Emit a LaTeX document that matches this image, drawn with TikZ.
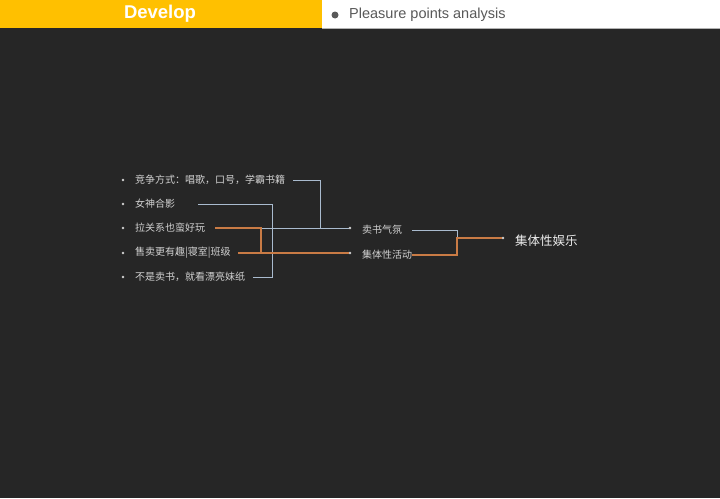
\documentclass[tikz,border=0pt]{standalone}
\usepackage{fontspec}
\setmainfont{Liberation Sans}
\newfontfamily\cjk{Noto Sans CJK SC}
\usetikzlibrary{positioning,calc}
\definecolor{bgdark}{HTML}{262626}
\definecolor{baryellow}{HTML}{FFC000}
\definecolor{headgray}{HTML}{595959}
\definecolor{itemgray}{HTML}{D2D2D2}
\definecolor{linkblue}{HTML}{A9BBCE}
\definecolor{linkorange}{HTML}{C97B45}

\begin{document}
\begin{tikzpicture}[x=1pt,y=-1pt,
  item/.style={anchor=west, inner sep=0pt, text width=#1, align=left,
    font=\cjk\fontsize{10}{12}\selectfont, text=itemgray},
  dot/.style={circle, fill=itemgray, inner sep=0pt, minimum size=2.6pt},
  blueln/.style={draw=linkblue, line width=1pt},
  orangeln/.style={draw=linkorange, line width=1.3pt}]
% Background and header
\useasboundingbox (0,0) rectangle (720,498);
\fill[bgdark] (0,0) rectangle (720,498);
\fill[baryellow] (0,0) rectangle (322,28);
\fill[white] (322,0) rectangle (720,28);
\draw[gray!60, line width=0.8pt] (322,28) -- (720,28);
\node[text=white, font=\bfseries\fontsize{18.5}{20}\selectfont] (title) at (160,14) {Develop};
\fill[headgray] (335,15) circle (3.5);
\node[anchor=west, inner sep=0pt, text=headgray, font=\fontsize{14.5}{16}\selectfont] (sub) at (349,15) {Pleasure points analysis};
% Left items
\foreach \n/\y/\w/\t in {1/180/158/{竞争方式：唱歌，口号，学霸书籍},
    2/204/63/{女神合影}, 3/228/80/{拉关系也蛮好玩},
    4/253/103/{售卖更有趣|寝室|班级}, 5/277/118/{不是卖书，就看漂亮妹纸}} {
  \node[dot] at (123,\y) {};
  \node[item=\w] (i\n) at (135,\y) {\t};
}
% Middle items
\node[dot] (b1) at (350,228) {};
\node[item=50] (m1) at (362,230) {卖书气氛};
\node[dot] (b2) at (350,253) {};
\node[item=50] (m2) at (362,255) {集体性活动};
% Right item
\node[dot] (b3) at (503,238) {};
\node[anchor=west, inner sep=0pt, text=white!92!black, font=\cjk\fontsize{12.5}{14}\selectfont] (r1) at (515,241) {集体性娱乐};
% Joints
\coordinate (ja) at (320,228);
\coordinate (jb) at (272,228);
\coordinate (jc) at (261,228);
\coordinate (jd) at (457,238);
% Connectors
\draw[blueln] (i1.east) -| (ja);
\draw[blueln] (i2.east) -| (jb);
\draw[blueln] (i5.east) -| (jb);
\draw[blueln] (jc) -- (b1);
\draw[orangeln] (i3.east) -- (jc) -- (jc |- b2);
\draw[orangeln] (i4.east) -- (b2);
\draw[blueln] (m1.east) -| (jd);
\draw[orangeln] (m2.east) -| (jd) -- (b3);
\end{tikzpicture}
\end{document}
